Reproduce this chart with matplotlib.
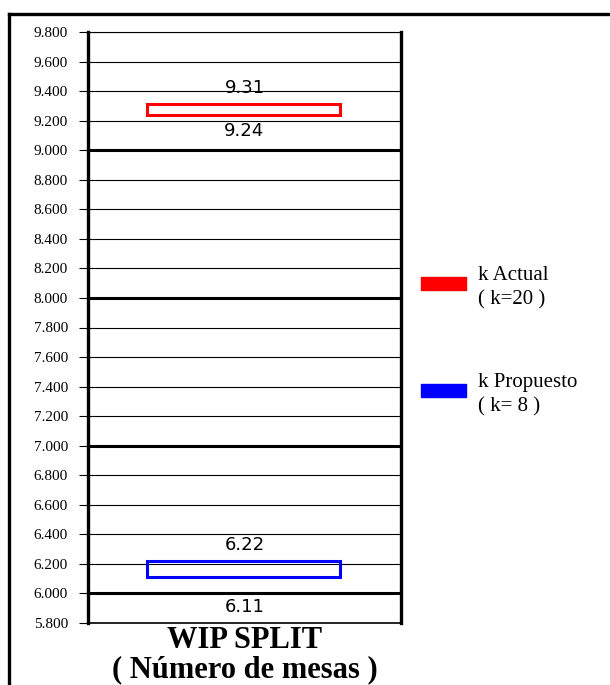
import matplotlib.pyplot as plt
from matplotlib.patches import Rectangle
from matplotlib.lines import Line2D

# data
series = ["k Actual\n( k=20 )", "k Propuesto\n( k= 8 )"]
colors = ["#ff0000", "#0000ff"]
lows = [9.24, 6.11]
highs = [9.31, 6.22]
yticks = [5.8 + 0.2 * i for i in range(21)]
ytick_labels = ["%d.%03d" % (int(round(t * 1000)) // 1000, int(round(t * 1000)) % 1000) for t in yticks]
category = ["WIP SPLIT", "( Número de mesas )"]

# label offsets (points) below each box, the blue one sits under the 6.000 line
low_offsets = [-5, -15]

fig = plt.figure(figsize=(6.10, 6.85), dpi=100)
ax = fig.add_axes([88 / 610, 1 - 623 / 685, 313 / 610, 591 / 685])
ax.set_xlim(0, 1)
ax.set_ylim(5.8, 9.8)

# grid lines: thick at integers
for t in yticks:
    thick = abs(t - round(t)) < 1e-6
    ax.axhline(t, color="black", lw=2.2 if thick else 0.8, zorder=1)

for lo, hi, c, off in zip(lows, highs, colors, low_offsets):
    ax.add_patch(Rectangle((0.19, lo), 0.615, hi - lo, fill=False,
                           edgecolor=c, lw=2.2, zorder=3))
    ax.annotate("%.2f" % hi, (0.5, hi), xytext=(0, 5), textcoords="offset points",
                ha="center", va="bottom", fontsize=13, family="DejaVu Sans")
    ax.annotate("%.2f" % lo, (0.5, lo), xytext=(0, off), textcoords="offset points",
                ha="center", va="top", fontsize=13, family="DejaVu Sans")

ax.set_yticks(yticks)
ax.set_yticklabels(ytick_labels, family="Liberation Serif", fontsize=11)
ax.tick_params(axis="y", direction="out", length=6.5, width=0.8, pad=8)
ax.set_xticks([])
for s in ["left", "right"]:
    ax.spines[s].set_linewidth(2.4)
ax.spines["top"].set_linewidth(0.8)
ax.spines["bottom"].set_linewidth(1.2)

for line, y in zip(category, [648, 677]):
    fig.text(245 / 610, 1 - y / 685, line, ha="center", va="baseline",
             family="Liberation Serif", fontweight="bold", fontsize=22)

# legend drawn by hand
leg_y = [283, 390]
text_y = [288, 395]
for lab, c, y, ty in zip(series, colors, leg_y, text_y):
    fig.add_artist(Rectangle((421 / 610, 1 - (y + 7) / 685), 45 / 610, 13 / 685,
                             transform=fig.transFigure, color=c))
    fig.text(478 / 610, 1 - ty / 685, lab, ha="left", va="center",
             family="Liberation Serif", fontsize=15, linespacing=1.35)

# outer frame (top and left only)
fig.add_artist(Line2D([9 / 610, 1], [1 - 14 / 685, 1 - 14 / 685], color="black", lw=2.4,
                      transform=fig.transFigure))
fig.add_artist(Line2D([9 / 610, 9 / 610], [0, 1 - 14 / 685], color="black", lw=2.4,
                      transform=fig.transFigure))

fig.savefig("out.png", dpi=100)
